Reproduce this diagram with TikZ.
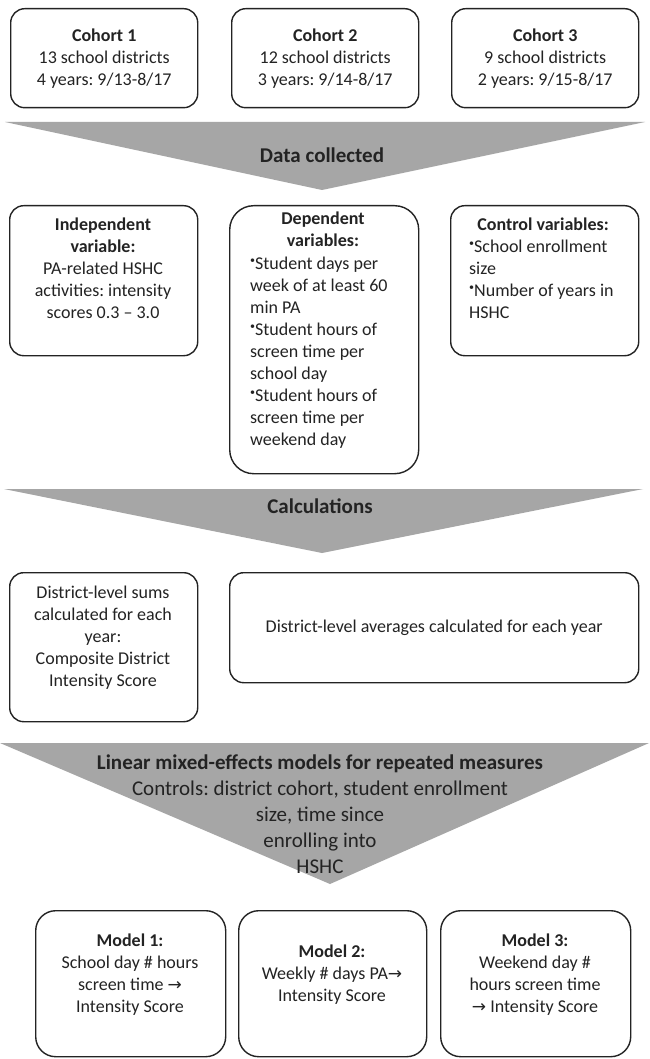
\documentclass[tikz,border=0pt]{standalone}
\usepackage{fontspec}
\setmainfont{Carlito}
\newfontfamily\arrowfont{DejaVu Sans}
\frenchspacing
\definecolor{tri}{RGB}{166,166,166}
\definecolor{ink}{RGB}{35,35,35}
\newcommand\bul{\raisebox{0.34em}{\fontsize{10}{10}\selectfont\textbullet}}
\newcommand\arr{{\arrowfont\fontsize{17}{17}\selectfont →}}
\tikzset{
  box/.style={draw=ink, line width=1.4pt, rounded corners=14pt, inner sep=0pt, anchor=north west},
  txt/.style={font=\fontsize{18}{22}\selectfont, text=ink, align=center, inner sep=0pt},
  ltxt/.style={font=\fontsize{18}{22}\selectfont, text=ink, align=left, inner sep=0pt, anchor=north west},
  head/.style={font=\fontsize{21}{26}\selectfont\bfseries, text=ink, align=center, inner sep=0pt},
  tri3/.style={font=\fontsize{21}{26}\selectfont, text=ink, align=center, inner sep=0pt, anchor=north},
  band/.style={fill=tri, draw=none}
}
\begin{document}
\begin{tikzpicture}[x=1pt,y=-1pt]
\useasboundingbox[fill=white] (0,0) rectangle (649,1059);

% cohorts
\node[box, minimum width=187pt, minimum height=99pt] (c1) at (10,8) {};
\node[box, minimum width=187pt, minimum height=99pt] (c2) at (231,8) {};
\node[box, minimum width=187pt, minimum height=99pt] (c3) at (451,8) {};
\node[txt] (c1t) at (c1.center) {\textbf{Cohort 1}\\13 school districts\\4 years: 9/13-8/17};
\node[txt] (c2t) at (c2.center) {\textbf{Cohort 2}\\12 school districts\\3 years: 9/14-8/17};
\node[txt] (c3t) at (c3.center) {\textbf{Cohort 3}\\9 school districts\\2 years: 9/15-8/17};

% triangle 1
\coordinate (t1a) at (5,122); \coordinate (t1b) at (645,122); \coordinate (t1c) at (322,190);
\path[band] (t1a) -- (t1b) -- (t1c) -- cycle;
\node[head] (h1) at (322,155) {Data collected};

% row 2
\node[box, minimum width=188pt, minimum height=150pt] (ind) at (9,205) {};
\node[txt, anchor=north] (indt) at (103,218) {\textbf{Independent}\\\textbf{variable:}\\PA-related HSHC\\activities: intensity\\scores 0.3 -- 3.0};
\node[box, rounded corners=24pt, minimum width=189pt, minimum height=268pt] (dep) at (229,205) {};
\node[txt, anchor=north] (deph) at (323,212) {\textbf{Dependent}\\\textbf{variables:}};
\node[ltxt] (depl) at (250,257) {\bul Student days per\\week of at least 60\\min PA\\\bul Student hours of\\screen time per\\school day\\\bul Student hours of\\screen time per\\weekend day};
\node[box, minimum width=188pt, minimum height=150pt] (ctl) at (450,205) {};
\node[txt, anchor=north] (ctlh) at (543,218) {\textbf{Control variables:}};
\node[ltxt] (ctll) at (469,240) {\bul School enrollment\\size\\\bul Number of years in\\HSHC};

% triangle 2
\coordinate (t2a) at (4,489); \coordinate (t2b) at (643,489); \coordinate (t2c) at (322,553);
\path[band] (t2a) -- (t2b) -- (t2c) -- cycle;
\node[head] (h2) at (320,506) {Calculations};

% row 3
\node[box, minimum width=188pt, minimum height=149pt] (sum) at (9,572) {};
\node[txt, anchor=north] (sumt) at (103,586) {District-level sums\\calculated for each\\year:\\Composite District\\Intensity Score};
\node[box, minimum width=409pt, minimum height=110pt] (avg) at (229,572) {};
\node[txt] (avgt) at (avg.center) {District-level averages calculated for each year};

% triangle 3
\coordinate (t3a) at (0,743); \coordinate (t3b) at (649,743); \coordinate (t3c) at (330,884);
\path[band] (t3a) -- (t3b) -- (t3c) -- cycle;
\node[tri3] (h3) at (320,755) {\textbf{Linear mixed-effects models for repeated measures}\\Controls: district cohort, student enrollment\\size, time since\\enrolling into\\HSHC};

% models
\node[box, rounded corners=20pt, minimum width=190pt, minimum height=146pt] (m1) at (35,910) {};
\node[box, rounded corners=20pt, minimum width=188pt, minimum height=146pt] (m2) at (238,910) {};
\node[box, rounded corners=20pt, minimum width=190pt, minimum height=146pt] (m3) at (440,910) {};
\node[txt, anchor=north] (m1t) at (130,934) {\textbf{Model 1:}\\School day \# hours\\screen time \arr\\Intensity Score};
\node[txt, anchor=north] (m2t) at (332,945) {\textbf{Model 2:}\\Weekly \# days PA\arr\\Intensity Score};
\node[txt, anchor=north] (m3t) at (535,934) {\textbf{Model 3:}\\Weekend day \#\\hours screen time\\\arr\ Intensity Score};
\end{tikzpicture}
\end{document}
